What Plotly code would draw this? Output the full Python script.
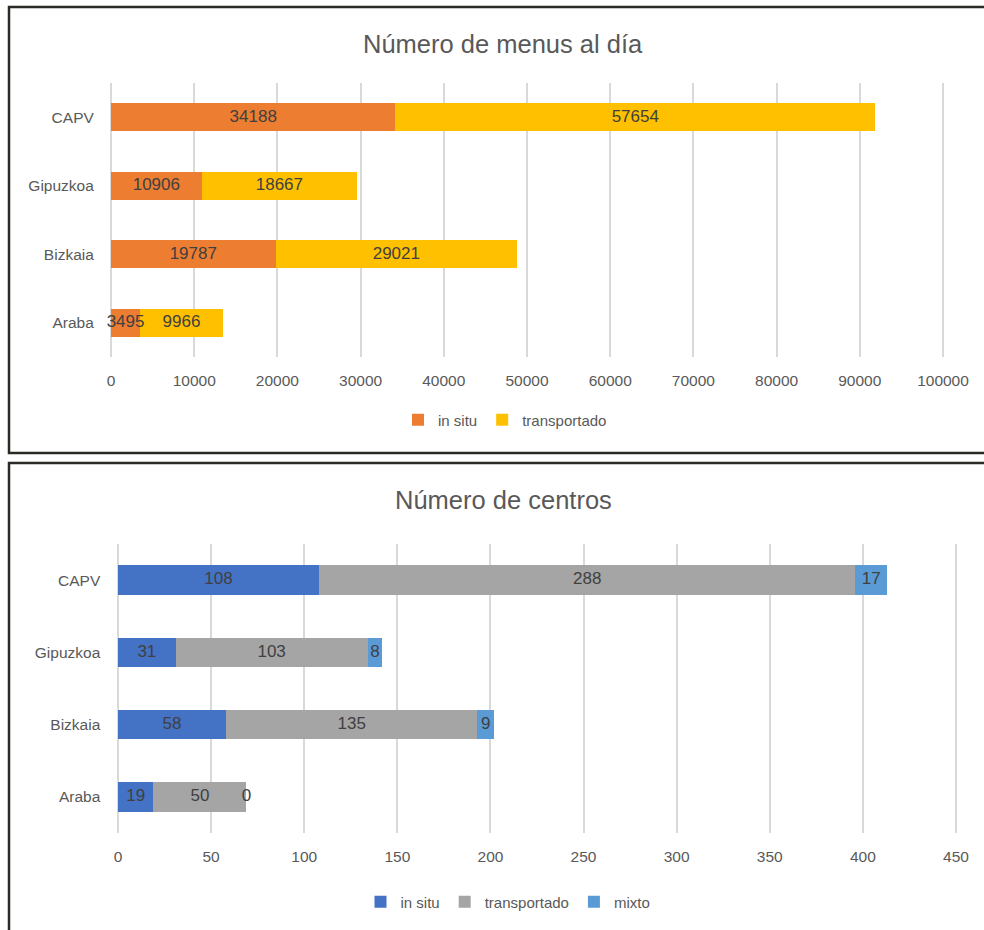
import plotly.graph_objects as go

W, H = 984, 930

# ---- data ----
regions = ["CAPV", "Gipuzkoa", "Bizkaia", "Araba"]

menus_in_situ = [34188, 10906, 19787, 3495]
menus_transportado = [57654, 18667, 29021, 9966]

centros_in_situ = [108, 31, 58, 19]
centros_transportado = [288, 103, 135, 50]
centros_mixto = [17, 8, 9, 0]

title_top = "Número de menus al día"
title_bottom = "Número de centros"

FONT = "Liberation Sans, Arial, sans-serif"
TXT = "#595959"
LBL = "#404040"
GRID = "#D9D9D9"


def px_x(p):
    return p / W


def px_y(p):
    return 1 - p / H


fig = go.Figure()


def add_stack(series, names, colors, xa, ya, legend):
    base = [0] * len(regions)
    for vals, name, col in zip(series, names, colors):
        fig.add_trace(go.Bar(
            y=regions, x=vals, name=name, orientation="h",
            marker=dict(color=col, line=dict(width=0)),
            width=0.41, xaxis=xa, yaxis=ya, legend=legend,
            hoverinfo="x+name",
        ))
        centers = [b + v / 2 for b, v in zip(base, vals)]
        fig.add_trace(go.Scatter(
            y=regions, x=centers, mode="text", text=[str(v) for v in vals],
            textposition="middle center", cliponaxis=False,
            textfont=dict(family=FONT, size=17, color=LBL),
            xaxis=xa, yaxis=ya, showlegend=False, hoverinfo="skip",
        ))
        base = [b + v for b, v in zip(base, vals)]


add_stack([menus_in_situ, menus_transportado], ["in situ", "transportado"],
          ["#ED7D31", "#FFC000"], "x", "y", "legend")
add_stack([centros_in_situ, centros_transportado, centros_mixto],
          ["in situ", "transportado", "mixto"],
          ["#4472C4", "#A5A5A5", "#5B9BD5"], "x2", "y2", "legend2")

xcommon = dict(showgrid=True, gridcolor=GRID, gridwidth=1.5, zeroline=False,
               showline=False, ticks="", tickformat="d", automargin=False,
               tickfont=dict(family=FONT, size=15.5, color=TXT),
               ticklabelstandoff=12, fixedrange=True)
ycommon = dict(autorange="reversed", showgrid=False, zeroline=False, showline=False,
               ticks="", automargin=False,
               tickfont=dict(family=FONT, size=15.5, color=TXT),
               fixedrange=True)

# axis 1: 0 -> px 111, 100000 -> px 943 ; pad range by 500 units (~4 px)
k1 = 832 / 100000
# axis 2: 0 -> px 118, 450 -> px 956 ; pad range by 2 units (~3.7 px)
k2 = 838 / 450

fig.update_layout(
    width=W, height=H,
    paper_bgcolor="white", plot_bgcolor="white",
    margin=dict(l=0, r=0, t=0, b=0, pad=0, autoexpand=False),
    barmode="stack",
    font=dict(family=FONT, color=TXT),
    xaxis=dict(domain=[px_x(111 - 500 * k1), px_x(943 + 500 * k1)],
               range=[-500, 100500], tick0=0, dtick=10000,
               anchor="y", **xcommon),
    yaxis=dict(domain=[px_y(357), px_y(83)], anchor="x", ticklabelstandoff=12, **ycommon),
    xaxis2=dict(domain=[px_x(118 - 2 * k2), px_x(956 + 2 * k2)],
                range=[-2, 452], tick0=0, dtick=50,
                anchor="y2", **xcommon),
    yaxis2=dict(domain=[px_y(833), px_y(544)], anchor="x2", ticklabelstandoff=13, **ycommon),
    legend=dict(orientation="h", x=px_x(505), xanchor="center", y=px_y(420),
                yanchor="middle", font=dict(family=FONT, size=15, color=TXT),
                itemwidth=30, traceorder="normal", bgcolor="rgba(0,0,0,0)"),
    legend2=dict(orientation="h", x=px_x(508), xanchor="center", y=px_y(902),
                 yanchor="middle", font=dict(family=FONT, size=15, color=TXT),
                 itemwidth=30, traceorder="normal", bgcolor="rgba(0,0,0,0)"),
    annotations=[
        dict(text=title_top, x=px_x(503), y=px_y(44), xref="paper", yref="paper",
             showarrow=False, xanchor="center", yanchor="middle",
             font=dict(family=FONT, size=25.5, color=TXT)),
        dict(text=title_bottom, x=px_x(503), y=px_y(500), xref="paper", yref="paper",
             showarrow=False, xanchor="center", yanchor="middle",
             font=dict(family=FONT, size=25.5, color=TXT)),
    ],
    shapes=[
        dict(type="rect", xref="paper", yref="paper",
             x0=px_x(9), x1=px_x(995), y0=px_y(453), y1=px_y(7),
             line=dict(color="#2b2b25", width=2.5), fillcolor="rgba(0,0,0,0)", layer="below"),
        dict(type="rect", xref="paper", yref="paper",
             x0=px_x(9), x1=px_x(995), y0=px_y(945), y1=px_y(463),
             line=dict(color="#2b2b25", width=2.5), fillcolor="rgba(0,0,0,0)", layer="below"),
    ],
)

fig.write_html(
    "out.html",
    config={"displayModeBar": False},
    post_script="document.body.style.margin='0';document.body.style.overflow='hidden';",
)
